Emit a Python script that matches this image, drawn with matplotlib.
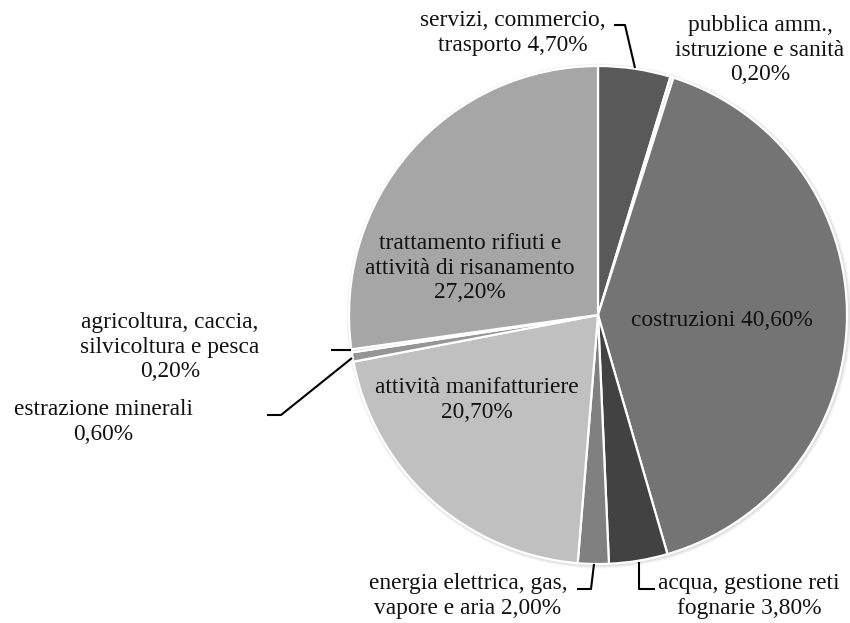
import matplotlib
matplotlib.use("Agg")
import matplotlib.pyplot as plt

# ---- data ----
categories = [
    "servizi, commercio, trasporto",
    "pubblica amm., istruzione e sanità",
    "costruzioni",
    "acqua, gestione reti fognarie",
    "energia elettrica, gas, vapore e aria",
    "attività manifatturiere",
    "estrazione minerali",
    "agricoltura, caccia, silvicoltura e pesca",
    "trattamento rifiuti e attività di risanamento",
]
values = [4.7, 0.2, 40.6, 3.8, 2.0, 20.7, 0.6, 0.2, 27.2]
colors = ["#595959", "#d9d9d9", "#747474", "#424242", "#808080",
          "#c0c0c0", "#959595", "#d9d9d9", "#a6a6a6"]

def pct(v):
    return f"{v:.2f}".replace(".", ",") + "%"

W, H = 850, 623
fig = plt.figure(figsize=(W / 100, H / 100), dpi=100)
ax = fig.add_axes([0, 0, 1, 1])

def Y(y):
    return H - y

cx, cy, r = 598, 315, 249

# subtle shadow
for i, a in enumerate([0.05, 0.04, 0.03]):
    ax.add_patch(plt.Circle((cx + 1, Y(cy) - 1), r + 1.5 + i, color="black", alpha=a, lw=0, zorder=0))

ax.pie(values, colors=colors, startangle=90, counterclock=False,
       center=(cx, Y(cy)), radius=r,
       wedgeprops=dict(edgecolor="white", linewidth=1.6))

ax.set_xlim(0, W)
ax.set_ylim(0, H)
ax.set_aspect("equal")
ax.axis("off")

font = dict(family="Liberation Serif", fontsize=16.8, color="#111111",
            ha="center", va="center", linespacing=1.2)

# label texts (line breaks as in the reference)
texts = [
    ("servizi, commercio,\ntrasporto " + pct(values[0]), 513, 33),
    ("pubblica amm.,\nistruzione e sanità\n" + pct(values[1]), 760, 50),
    ("costruzioni " + pct(values[2]), 722, 321),
    ("acqua, gestione reti\nfognarie " + pct(values[3]), 749, 596),
    ("energia elettrica, gas,\nvapore e aria " + pct(values[4]), 468, 596),
    ("attività manifatturiere\n" + pct(values[5]), 477, 400),
    ("estrazione minerali\n" + pct(values[6]), 103, 422),
    ("agricoltura, caccia,\nsilvicoltura e pesca\n" + pct(values[7]), 170, 347),
    ("trattamento rifiuti e\nattività di risanamento\n" + pct(values[8]), 470, 268),
]
for t, x, y in texts:
    ax.text(x, Y(y), t, **font)

# leader lines
lk = dict(color="black", lw=1.5, solid_capstyle="butt", zorder=5)
leaders = [
    [(614, 25), (625, 25), (635, 68)],
    [(639, 562), (639, 589), (655, 589)],
    [(577, 589), (591, 589), (594, 564)],
    [(267, 415), (281, 415), (352, 358)],
    [(331, 350), (351, 350)],
]
for pts in leaders:
    xs = [p[0] for p in pts]
    ys = [Y(p[1]) for p in pts]
    ax.plot(xs, ys, **lk)

fig.savefig("out.png", dpi=100, facecolor="white")
